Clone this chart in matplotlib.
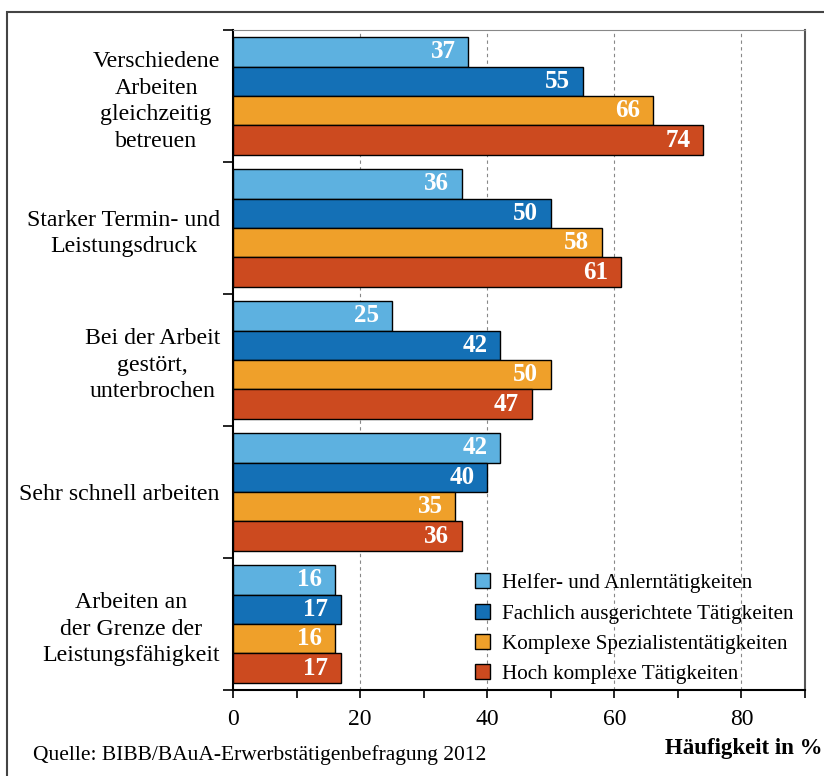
import matplotlib.pyplot as plt
from matplotlib.patches import Rectangle

plt.rcParams["font.family"] = ["Liberation Serif", "DejaVu Serif"]

categories = [
    "Verschiedene\nArbeiten\ngleichzeitig\nbetreuen",
    "Starker Termin- und\nLeistungsdruck",
    "Bei der Arbeit\ngestört,\nunterbrochen",
    "Sehr schnell arbeiten",
    "Arbeiten an\nder Grenze der\nLeistungsfähigkeit",
]
series_names = [
    "Helfer- und Anlerntätigkeiten",
    "Fachlich ausgerichtete Tätigkeiten",
    "Komplexe Spezialistentätigkeiten",
    "Hoch komplexe Tätigkeiten",
]
helfer = [37, 36, 25, 42, 16]
fachlich = [55, 50, 42, 40, 17]
spezialist = [66, 58, 50, 35, 16]
hoch = [74, 61, 47, 36, 17]
x_ticks = [0, 20, 40, 60, 80]

colors = ["#5DB1E0", "#1470B6", "#EFA02A", "#CC4A1F"]
series = [helfer, fachlich, spezialist, hoch]

fig = plt.figure(figsize=(8.24, 7.76), dpi=100)
ax = fig.add_axes([0.2828, 0.1108, 0.6942, 0.8505])

h = 0.223
pos = list(range(len(categories)))
for k, (vals, col, name) in enumerate(zip(series, colors, series_names)):
    ys = [p + (k - 1.5) * h for p in pos]
    ax.barh(ys, vals, height=h, color=col, edgecolor="black", linewidth=1.0,
            label=name, zorder=3)
    for y, v in zip(ys, vals):
        ax.text(v - 2.0, y, str(v), ha="right", va="center", color="white",
                fontsize=18, fontweight="bold", zorder=4)

ax.set_xlim(0, 90)
ax.set_ylim(len(categories) - 0.5, -0.5)

# x axis
ax.set_xticks(x_ticks)
ax.set_xticklabels([str(t) for t in x_ticks], fontsize=17)
ax.set_xticks([10, 30, 50, 70, 90], minor=True)
ax.tick_params(axis="x", which="both", length=6, width=1.2, direction="out", pad=8)
for t in x_ticks[1:]:
    ax.axvline(t, color="#888888", linestyle=(0, (3, 3)), linewidth=0.8, zorder=1)

# y axis: separators at group boundaries, labels at centres
ax.set_yticks([p - 0.5 for p in pos] + [len(categories) - 0.5])
ax.set_yticklabels([])
ax.set_yticks(pos, minor=True)
ax.set_yticklabels(categories, minor=True, fontsize=17.2)
ax.tick_params(axis="y", which="major", length=7, width=1.2)
ax.tick_params(axis="y", which="minor", length=0, pad=9.5)
for lbl in ax.get_yticklabels(minor=True):
    lbl.set_multialignment("center")
    lbl.set_linespacing(1.35)

for side in ["left", "bottom"]:
    ax.spines[side].set_linewidth(1.5)
ax.spines["right"].set_color("#555555")
ax.spines["right"].set_linewidth(1.5)
ax.spines["top"].set_color("#888888")

leg = ax.legend(loc="lower right", bbox_to_anchor=(0.986, 0.004), frameon=False,
                fontsize=15.2, handlelength=0.7, handleheight=0.7,
                handletextpad=0.6, labelspacing=0.5, borderaxespad=0.0,
                borderpad=0.15)

fig.text(0.04, 0.027, "Quelle: BIBB/BAuA-Erwerbstätigenbefragung 2012",
         fontsize=15.5, ha="left", va="center")
fig.text(0.998, 0.036, "Häufigkeit in %", fontsize=16.5, fontweight="bold",
         ha="right", va="center")

# outer frame around the figure
fig.patches.append(Rectangle((0.009, -0.05), 1.1, 1.035, transform=fig.transFigure,
                             fill=False, edgecolor="#444444", linewidth=1.5))

fig.savefig("out.png", dpi=100)
